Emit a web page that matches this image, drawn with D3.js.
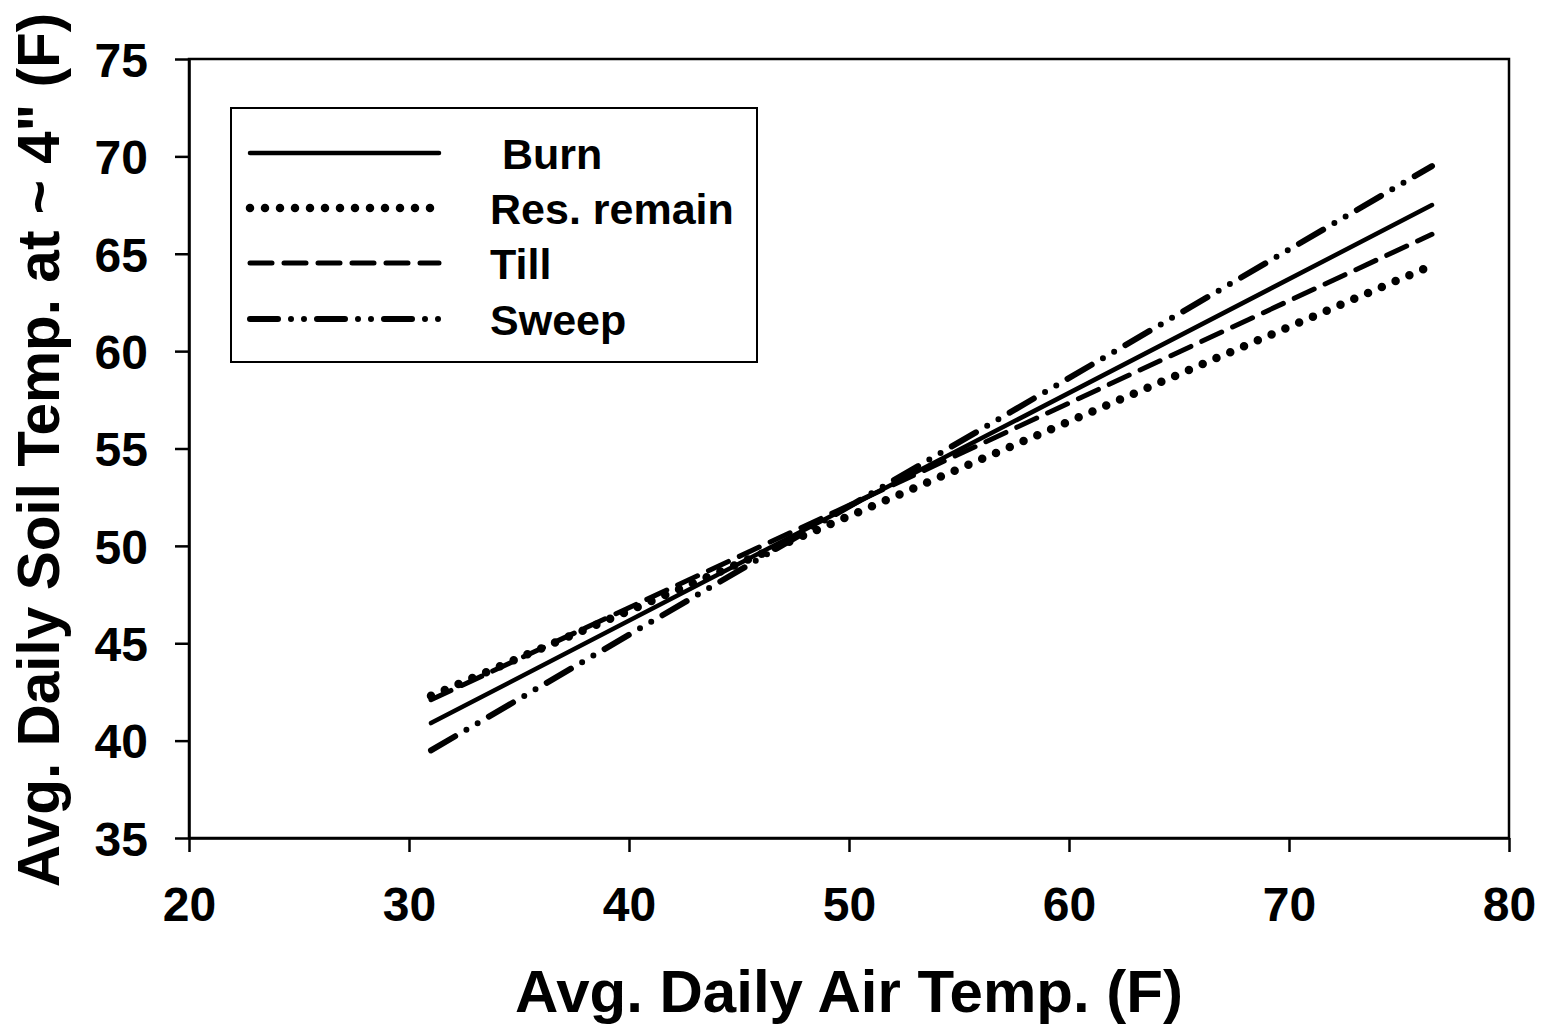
<!DOCTYPE html>
<html><head><meta charset="utf-8">
<script src="https://d3js.org/d3.v7.min.js"></script>
<style>body{margin:0;background:#fff}svg{display:block}text{font-family:"Liberation Sans",Arial,sans-serif;font-weight:bold;fill:#000}</style>
</head><body>
<script>
const seriesNames = ["Burn", "Res. remain", "Till", "Sweep"];
const legendLabels = [" Burn", "Res. remain", "Till", "Sweep"];
const airTemp = [31, 76.5];
const burn = [40.9, 67.5];
const resRemain = [42.3, 64.4];
const till = [42.1, 66.0];
const sweep = [39.5, 69.5];
const xTicks = [20, 30, 40, 50, 60, 70, 80];
const yTicks = [35, 40, 45, 50, 55, 60, 65, 70, 75];
const xTitle = "Avg. Daily Air Temp. (F)";
const yTitle = "Avg. Daily Soil Temp. at ~ 4\" (F)";

const W = 1542, H = 1026;
const m = {left: 189, right: 1509, top: 59, bottom: 838};
const svg = d3.select("body").append("svg").attr("width", W).attr("height", H);
const x = d3.scaleLinear().domain([20, 80]).range([m.left, m.right]);
const y = d3.scaleLinear().domain([35, 75]).range([m.bottom, m.top]);

// frame
svg.append("rect").attr("x", m.left).attr("y", m.top).attr("width", m.right - m.left).attr("height", m.bottom - m.top)
  .attr("fill", "none").attr("stroke", "#000").attr("stroke-width", 2.5);

const xAxis = svg.append("g").attr("transform", `translate(0,${m.bottom})`)
  .call(d3.axisBottom(x).tickValues(xTicks).tickSize(14).tickPadding(35).tickSizeOuter(0));
const yAxis = svg.append("g").attr("transform", `translate(${m.left},0)`)
  .call(d3.axisLeft(y).tickValues(yTicks).tickSize(14).tickPadding(27).tickSizeOuter(0));
[xAxis, yAxis].forEach(g => {
  g.select(".domain").attr("stroke-width", 2.5);
  g.selectAll(".tick line").attr("stroke-width", 2.5);
  g.selectAll("text").attr("font-size", 48).attr("font-family", "Liberation Sans, Arial").attr("font-weight", "bold");
});
xAxis.selectAll(".tick text").attr("dy", "0.71em");
yAxis.selectAll(".tick text").attr("dy", "0.36em");

svg.append("text").attr("x", 849).attr("y", 1012)
  .attr("text-anchor", "middle").attr("font-size", 60).text(xTitle);
svg.append("text").attr("transform", `translate(59,450) rotate(-90)`)
  .attr("text-anchor", "middle").attr("font-size", 58.5).text(yTitle);

const styles = [
  {w: 4.5, dash: null},
  {w: 8.5, dash: "0,15"},
  {w: 5, dash: "22,12"},
  {w: 6, dash: "28,13,0,13,0,13"}
];
const data = [burn, resRemain, till, sweep];
const line = d3.line().x(d => x(d[0])).y(d => y(d[1]));
data.forEach((s, i) => {
  const pts = airTemp.map((a, j) => [a, s[j]]);
  svg.append("path").attr("d", line(pts)).attr("fill", "none").attr("stroke", "#000")
    .attr("stroke-width", styles[i].w).attr("stroke-linecap", "round")
    .attr("stroke-dasharray", styles[i].dash);
});

// legend
const lg = svg.append("g");
lg.append("rect").attr("x", 231).attr("y", 108).attr("width", 526).attr("height", 254)
  .attr("fill", "#fff").attr("stroke", "#000").attr("stroke-width", 2);
const rowY = [153, 208, 263, 319];
legendLabels.forEach((lab, i) => {
  lg.append("line").attr("x1", 250).attr("x2", 439).attr("y1", rowY[i]).attr("y2", rowY[i])
    .attr("stroke", "#000").attr("stroke-width", styles[i].w).attr("stroke-linecap", "round")
    .attr("stroke-dasharray", styles[i].dash);
  lg.append("text").attr("x", 490).attr("y", rowY[i] + 16).attr("font-size", 43)
    .attr("xml:space", "preserve").style("white-space", "pre").text(lab);
});
</script>
</body></html>
